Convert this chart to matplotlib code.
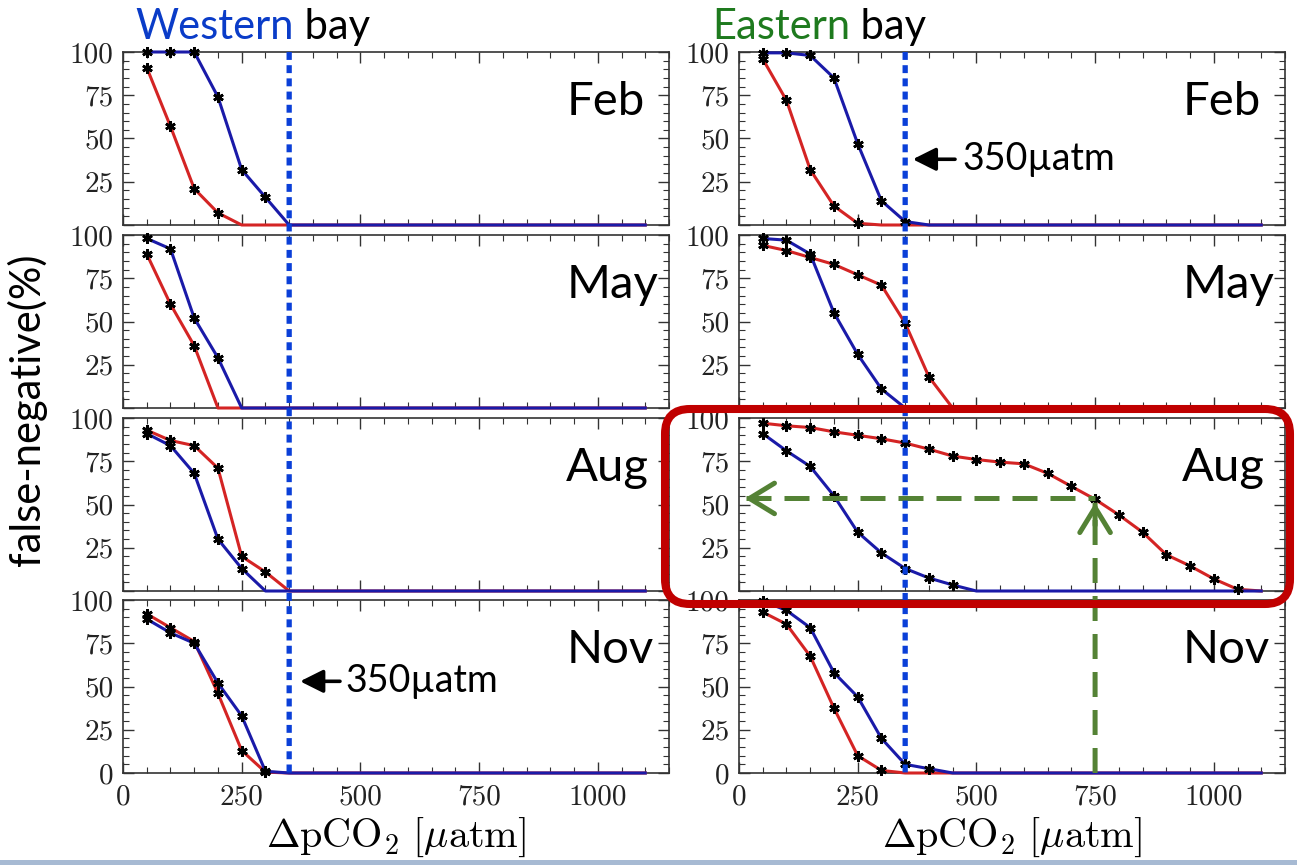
import numpy as np
import matplotlib.pyplot as plt
from matplotlib.patches import ConnectionPatch, FancyBboxPatch, Rectangle
from matplotlib.ticker import MultipleLocator

plt.rcParams['mathtext.fontset'] = 'cm'
SANS = ['Lato', 'DejaVu Sans']

# delta pCO2 steps [uatm]
dpco2 = [50, 100, 150, 200, 250, 300, 350, 400, 450, 500, 550,
         600, 650, 700, 750, 800, 850, 900, 950, 1000, 1050, 1100]

months = ['Feb', 'May', 'Aug', 'Nov']

# western bay, false-negative (%)
west_feb_red = [91, 57, 21, 7, 0, 0, 0, 0, 0, 0, 0, 0, 0, 0, 0, 0, 0, 0, 0, 0, 0, 0]
west_feb_blue = [100, 100, 100, 74, 32, 16, 0, 0, 0, 0, 0, 0, 0, 0, 0, 0, 0, 0, 0, 0, 0, 0]
west_may_red = [89, 60, 36, 0, 0, 0, 0, 0, 0, 0, 0, 0, 0, 0, 0, 0, 0, 0, 0, 0, 0, 0]
west_may_blue = [98, 92, 52, 29, 0, 0, 0, 0, 0, 0, 0, 0, 0, 0, 0, 0, 0, 0, 0, 0, 0, 0]
west_aug_red = [93, 87, 84, 71, 20, 11, 0, 0, 0, 0, 0, 0, 0, 0, 0, 0, 0, 0, 0, 0, 0, 0]
west_aug_blue = [91, 84, 68, 30, 13, 0, 0, 0, 0, 0, 0, 0, 0, 0, 0, 0, 0, 0, 0, 0, 0, 0]
west_nov_red = [92, 84, 76, 46, 13, 0.5, 0, 0, 0, 0, 0, 0, 0, 0, 0, 0, 0, 0, 0, 0, 0, 0]
west_nov_blue = [89, 81, 75, 52, 33, 1, 0, 0, 0, 0, 0, 0, 0, 0, 0, 0, 0, 0, 0, 0, 0, 0]

# eastern bay
east_feb_red = [96, 72, 32, 11, 1, 0, 0, 0, 0, 0, 0, 0, 0, 0, 0, 0, 0, 0, 0, 0, 0, 0]
east_feb_blue = [99.5, 99.5, 98, 85, 47, 14, 2, 0, 0, 0, 0, 0, 0, 0, 0, 0, 0, 0, 0, 0, 0, 0]
east_may_red = [94, 91, 87, 83, 77, 71, 49, 18, 0, 0, 0, 0, 0, 0, 0, 0, 0, 0, 0, 0, 0, 0]
east_may_blue = [98, 97, 89, 55, 31, 11, 0, 0, 0, 0, 0, 0, 0, 0, 0, 0, 0, 0, 0, 0, 0, 0]
east_aug_red = [97, 95.5, 94.5, 92, 90, 88, 85.5, 82, 78, 76, 74.5, 73.5,
                68, 60.5, 53, 44, 34, 21, 14.5, 7, 1, 0]
east_aug_blue = [91, 81, 72, 55, 34, 22, 13, 7.5, 3.5, 0, 0, 0, 0, 0, 0, 0, 0, 0, 0, 0, 0, 0]
east_nov_red = [93, 86, 67.5, 37.5, 10, 1.5, 0, 0, 0, 0, 0, 0, 0, 0, 0, 0, 0, 0, 0, 0, 0, 0]
east_nov_blue = [99.5, 94, 84, 58, 44, 20, 5, 2.5, 0, 0, 0, 0, 0, 0, 0, 0, 0, 0, 0, 0, 0, 0]

west = [(west_feb_red, west_feb_blue), (west_may_red, west_may_blue),
        (west_aug_red, west_aug_blue), (west_nov_red, west_nov_blue)]
east = [(east_feb_red, east_feb_blue), (east_may_red, east_may_blue),
        (east_aug_red, east_aug_blue), (east_nov_red, east_nov_blue)]

RED = '#d42424'
BLUE = '#1a1aa8'
DOT_BLUE = '#0a3fd8'
GREEN = '#548235'

W, H = 1297, 865
fig = plt.figure(figsize=(W / 100, H / 100), dpi=100)

col_x = [123, 739]
ax_w = 546
row_top = [52, 235, 418, 600]
ax_h = 173

axes = [[None] * 4 for _ in range(2)]
x = np.array(dpco2)
for c, data in enumerate([west, east]):
    for r, (red, blue) in enumerate(data):
        ax = fig.add_axes([col_x[c] / W, 1 - (row_top[r] + ax_h) / H, ax_w / W, ax_h / H])
        axes[c][r] = ax
        for vals, col in [(red, RED), (blue, BLUE)]:
            v = np.array(vals, dtype=float)
            ax.plot(x, v, color=col, lw=2.2, clip_on=False, zorder=3)
            m = v > 0
            ax.plot(x[m], v[m], ls='none', marker=(6, 2, 0), ms=7.5, mew=1.9,
                    color='black', clip_on=False, zorder=4)
        ax.set_xlim(0, 1150)
        ax.set_ylim(0, 100)
        ax.xaxis.set_major_locator(MultipleLocator(250))
        ax.xaxis.set_minor_locator(MultipleLocator(50))
        ax.yaxis.set_major_locator(MultipleLocator(25))
        ax.yaxis.set_minor_locator(MultipleLocator(5))
        ax.tick_params(which='both', direction='in', top=True, right=True,
                       colors='#333333', labelcolor='#222222',
                       labelsize=21, labelfontfamily='cmr10')
        ax.tick_params(which='major', length=8, width=1.0)
        ax.tick_params(which='minor', length=4, width=0.8)
        ax.tick_params(axis='x', pad=8)
        ax.tick_params(axis='y', pad=7)
        for s in ax.spines.values():
            s.set_color('#333333')
            s.set_linewidth(1.2)
        ax.set_yticks([0, 25, 50, 75, 100])
        if r < 3:
            ax.set_yticklabels(['', '25', '50', '75', '100'])
            ax.tick_params(axis='x', labelbottom=False)
        else:
            ax.set_xlabel(r'$\Delta\mathrm{pCO_2}\ [\mu\mathrm{atm}]$', fontsize=29, labelpad=4)
        ax.text(0.812, 0.71, months[r], transform=ax.transAxes, ha='left', va='center',
                fontsize=34, family=SANS)

# 350 uatm dotted line across each column
for c in range(2):
    con = ConnectionPatch(xyA=(350, 100), coordsA=axes[c][0].transData,
                          xyB=(350, 0), coordsB=axes[c][3].transData,
                          color=DOT_BLUE, lw=3.8, linestyle=(0, (1.5, 1.0)),
                          capstyle='butt', zorder=6)
    fig.add_artist(con)

arrow_kw = dict(arrowstyle='-|>,head_length=0.7,head_width=0.35', color='black',
                lw=2.6, mutation_scale=20, shrinkA=0, shrinkB=0)
axes[1][0].annotate('', xy=(366, 38), xytext=(455, 38), arrowprops=arrow_kw, zorder=7)
axes[1][0].text(470, 38, '350µatm', fontsize=27, family=SANS, va='center', ha='left')
axes[0][3].annotate('', xy=(373, 53), xytext=(457, 53), arrowprops=arrow_kw, zorder=7)
axes[0][3].text(468, 53, '350µatm', fontsize=27, family=SANS, va='center', ha='left')

# green reading guides in eastern Aug
aug, nov = axes[1][2], axes[1][3]
green_dash = (0, (5, 2.6))
aug.plot([14, 750], [53.5, 53.5], color=GREEN, lw=3.6, dashes=(5, 2.6),
         solid_capstyle='butt', dash_capstyle='butt', clip_on=False, zorder=5)
head_kw = dict(arrowstyle='->,head_length=0.9,head_width=0.55', color=GREEN,
               lw=3.6, mutation_scale=20, shrinkA=0, shrinkB=0)
aug.annotate('', xy=(12, 53.5), xytext=(60, 53.5), arrowprops=head_kw, zorder=5)
vcon = ConnectionPatch(xyA=(750, 0), coordsA=nov.transData,
                       xyB=(750, 51), coordsB=aug.transData,
                       color=GREEN, lw=3.6, linestyle=green_dash, capstyle='butt', zorder=5)
fig.add_artist(vcon)
aug.annotate('', xy=(750, 51), xytext=(750, 38), arrowprops=head_kw, zorder=5)

# red highlight box around eastern Aug
box = FancyBboxPatch((665 / 100, (H - 604) / 100), (1290 - 665) / 100, (604 - 409) / 100,
                     boxstyle='round,pad=0,rounding_size=0.25',
                     transform=fig.dpi_scale_trans, fill=False,
                     edgecolor='#c00000', lw=5.8, zorder=8)
fig.add_artist(box)

# titles
t1 = fig.text(135 / W, 1 - 46 / H, 'Western', color='#0a3cc8', fontsize=30,
              family=SANS, ha='left', va='bottom')
fig.axes[0].annotate(' bay', xy=(1, 0), xycoords=t1, fontsize=30, family=SANS,
                     ha='left', va='bottom', annotation_clip=False)
t2 = fig.text(712 / W, 1 - 46 / H, 'Eastern', color='#1e7a1e', fontsize=30,
              family=SANS, ha='left', va='bottom')
fig.axes[0].annotate(' bay', xy=(1, 0), xycoords=t2, fontsize=30, family=SANS,
                     ha='left', va='bottom', annotation_clip=False)

fig.text(27 / W, 1 - 410 / H, 'false-negative(%)', rotation=90, fontsize=30,
         family=SANS, ha='center', va='center')

# slide edge strip at the bottom
fig.add_artist(Rectangle((0, 0), W / 100, 0.05, transform=fig.dpi_scale_trans,
                         color='#a7bad3', lw=0))

fig.savefig('out.png', dpi=100)
